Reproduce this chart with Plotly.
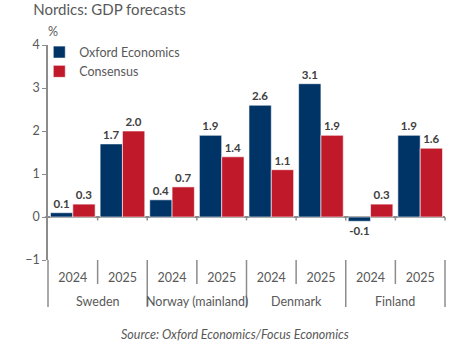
import plotly.graph_objects as go

countries = ["Sweden", "Norway (mainland)", "Denmark", "Finland"]
years = ["2024", "2025"]
oxford = [0.1, 1.7, 0.4, 1.9, 2.6, 3.1, -0.1, 1.9]
consensus = [0.3, 2.0, 0.7, 1.4, 1.1, 1.9, 0.3, 1.6]

NAVY = "#003366"
RED = "#C0192A"
GRAY = "#595959"
AX = "#8C8C8C"
FONT = "Lato"

cats = [f"{c} {y}" for c in countries for y in years]
year_text = [y for c in countries for y in years]

fig = go.Figure()
for name, vals, col in [("Oxford Economics", oxford, NAVY), ("Consensus", consensus, RED)]:
    fig.add_trace(go.Bar(
        x=cats, y=vals, name=name,
        marker=dict(color=col, line=dict(color="rgba(255,255,255,0.6)", width=1)),
        text=[f"{v:.1f}" for v in vals], textposition="outside",
        textfont=dict(family=FONT, size=11.5, color="#404040", weight="bold"),
        cliponaxis=False,
    ))

n = len(cats)
shapes = []
# small ticks below the zero line
for i in range(1, n + 1):
    shapes.append(dict(type="line", xref="paper", yref="y", x0=i / n, x1=i / n,
                       y0=0, y1=-0.08, line=dict(color=AX, width=1.5)))
shapes.append(dict(type="line", xref="paper", yref="y", x0=-0.008, x1=0, y0=0, y1=0,
                   line=dict(color=AX, width=1.5)))
# category label dividers
for g in range(len(countries) + 1):
    xg = 2 * g / n
    shapes.append(dict(type="line", xref="paper", yref="paper", x0=xg, x1=xg,
                       y0=0, y1=-0.219, line=dict(color=AX, width=1.5)))
for g in range(len(countries)):
    xg = (2 * g + 1) / n
    shapes.append(dict(type="line", xref="paper", yref="paper", x0=xg, x1=xg,
                       y0=0, y1=-0.112, line=dict(color=AX, width=1.5)))

annotations = [
    dict(text=c, xref="paper", yref="paper", x=(2 * g + 1) / n, y=-0.195,
         xanchor="center", yanchor="middle", showarrow=False,
         font=dict(size=12.5, color=GRAY))
    for g, c in enumerate(countries)
]
annotations += [
    dict(text="%", xref="paper", yref="paper", x=0.0, y=1.0, yshift=14, xshift=-2,
         xanchor="left", yanchor="middle", showarrow=False,
         font=dict(size=12.5, color=GRAY)),
    dict(text="<i>Source: Oxford Economics/Focus Economics</i>", xref="paper",
         yref="paper", x=0.47, y=0, yshift=-65, xanchor="center",
         yanchor="top", showarrow=False, font=dict(size=12.5, color=GRAY)),
]

fig.update_layout(
    width=474, height=353,
    margin=dict(l=48, r=29, t=45, b=93),
    paper_bgcolor="white", plot_bgcolor="white",
    barmode="group", bargap=0.1, bargroupgap=0,
    font=dict(family=FONT, size=12.5, color=GRAY),
    showlegend=True,
    legend=dict(x=-0.022, y=1.035, xanchor="left", yanchor="top",
                bgcolor="rgba(0,0,0,0)", font=dict(size=12.5, color=GRAY),
                itemwidth=30, tracegroupgap=2),
    title=dict(text="Nordics: GDP forecasts", x=0.07, xanchor="left",
               y=0.986, yanchor="top", font=dict(size=15, color=GRAY)),
    xaxis=dict(type="category", showgrid=False, showline=False, ticks="",
               tickmode="array", tickvals=cats, ticktext=year_text,
               ticklabelstandoff=8, tickangle=0,
               tickfont=dict(size=12.5, color=GRAY)),
    yaxis=dict(range=[-1, 4], dtick=1, showgrid=False, showline=True,
               linecolor=AX, linewidth=1.5, ticks="outside", ticklen=4,
               tickcolor=AX, zeroline=True, zerolinecolor=AX, zerolinewidth=1.5,
               tickfont=dict(size=12.5, color=GRAY)),
    shapes=shapes,
    annotations=annotations,
)

fig.write_html("out.html")
